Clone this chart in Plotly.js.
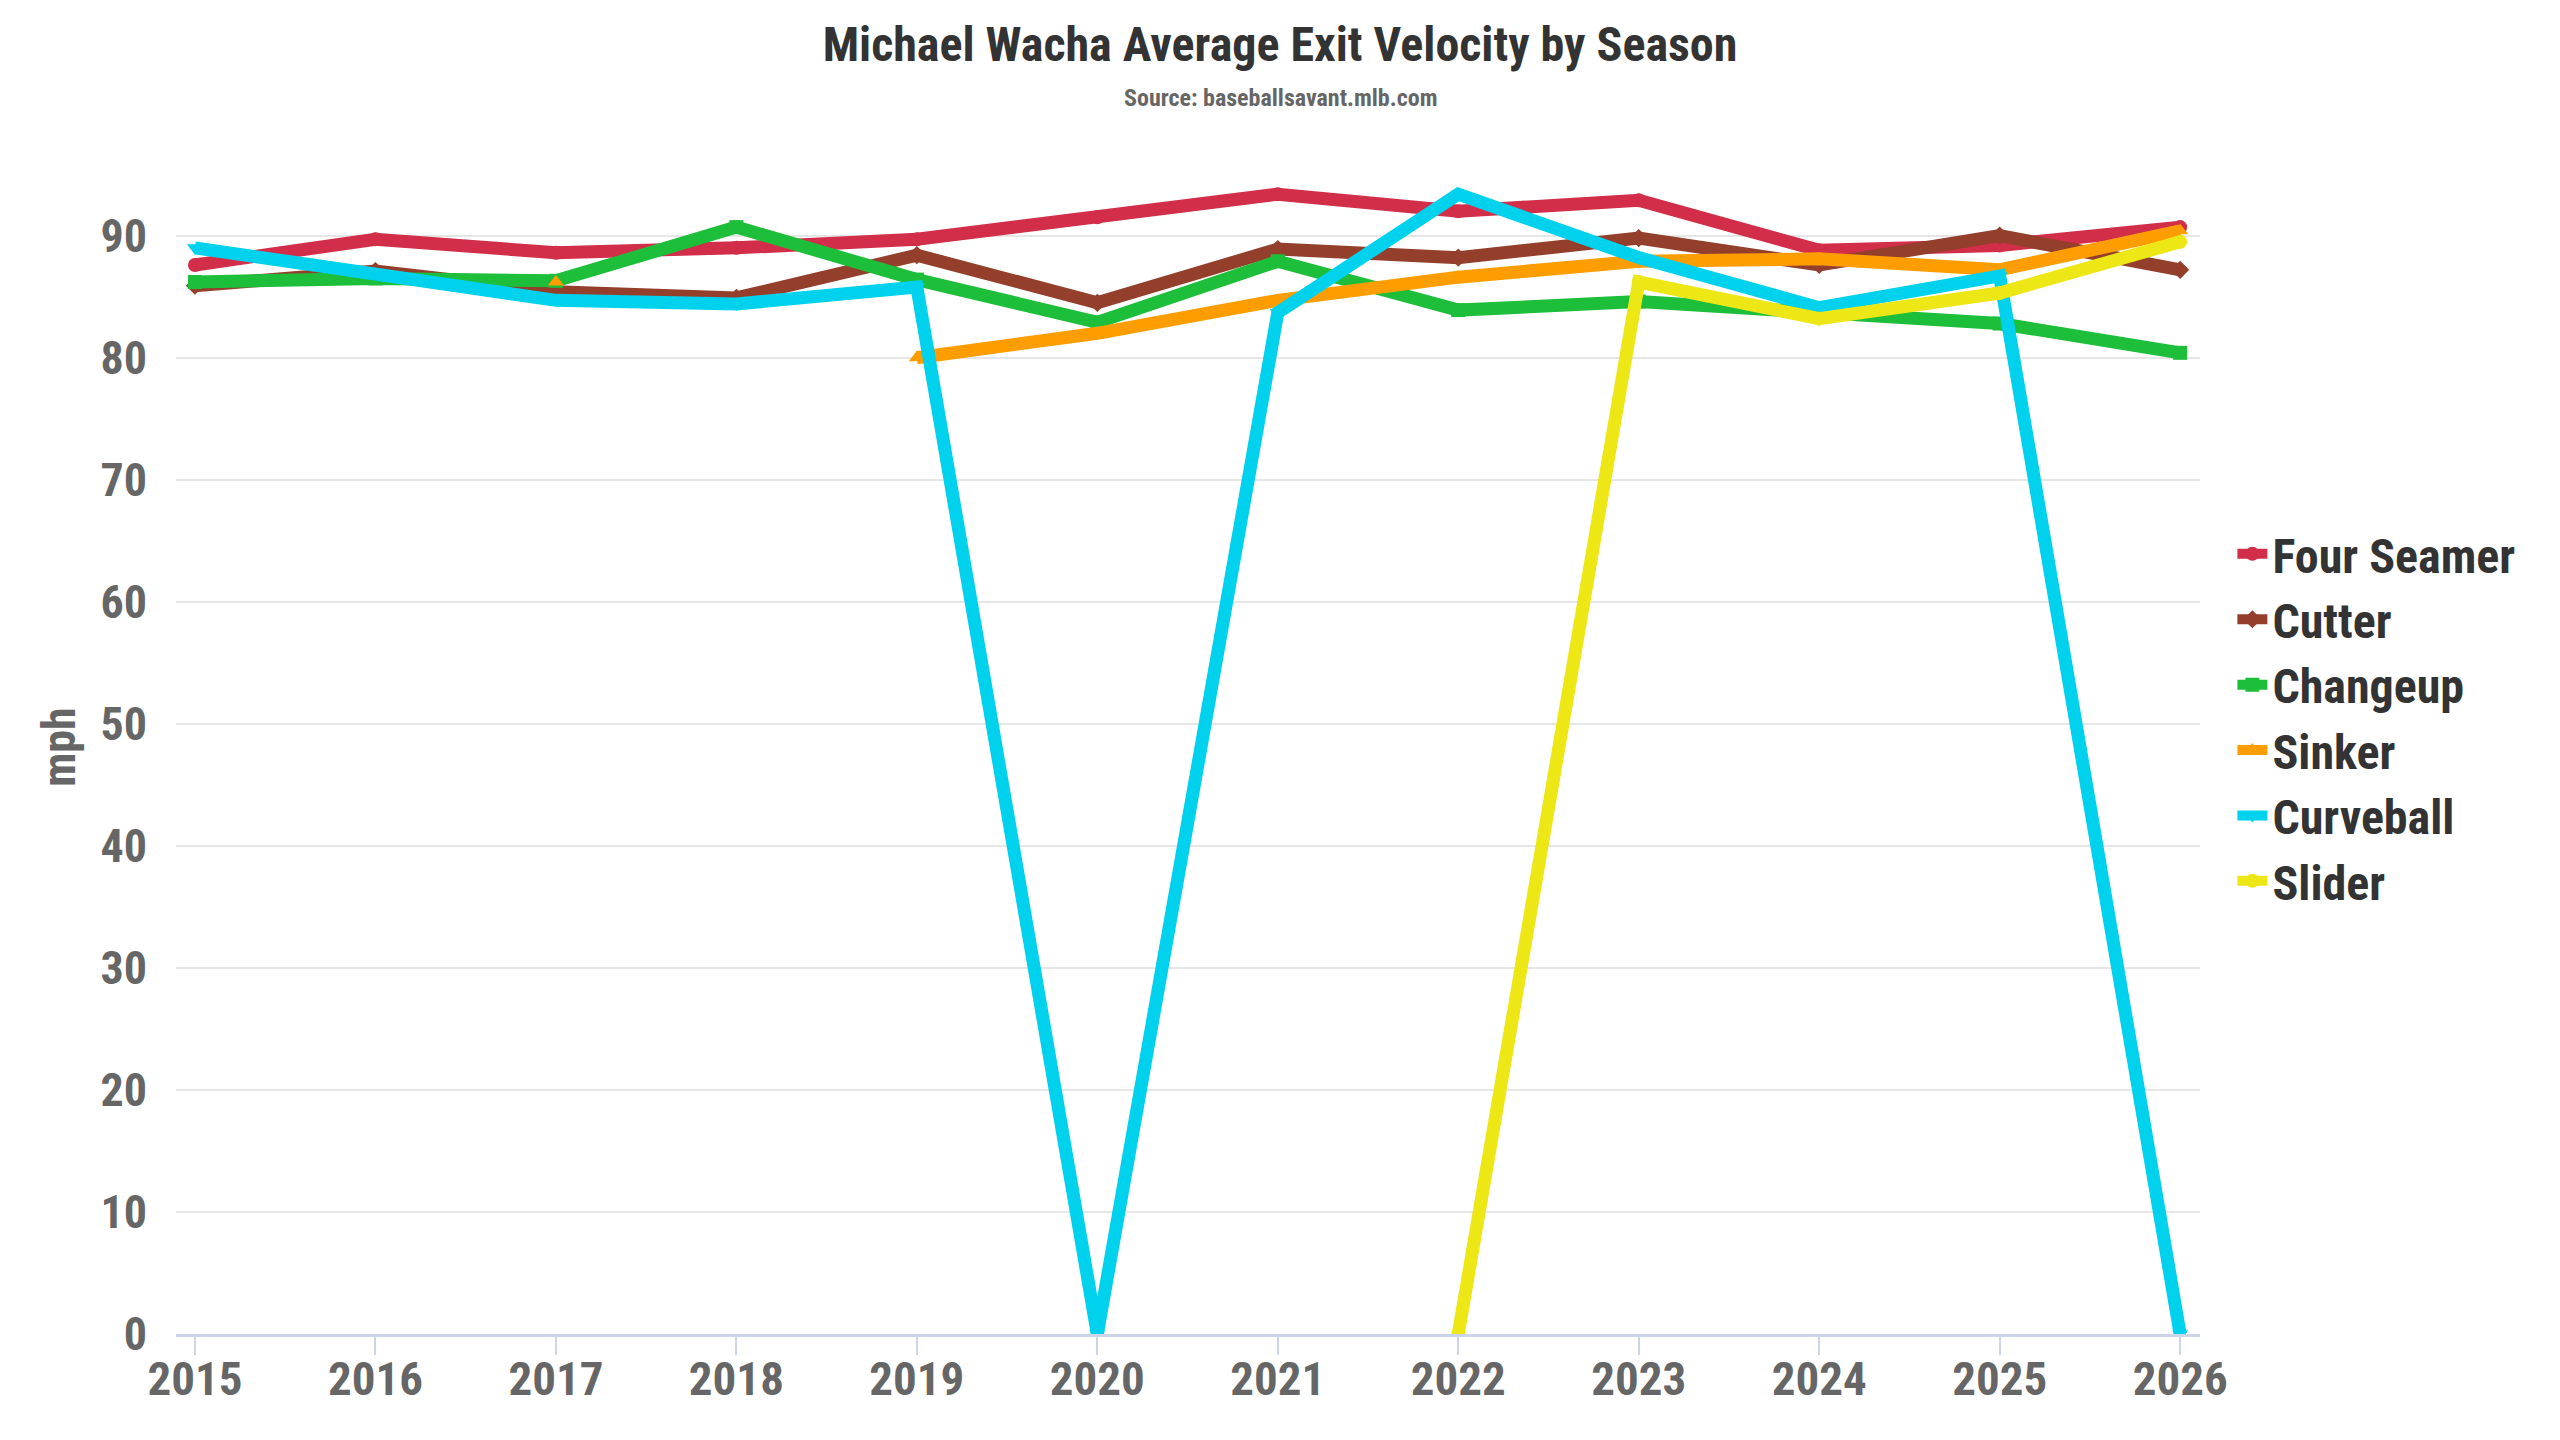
<!DOCTYPE html>
<html>
<head>
<meta charset="utf-8">
<script src="https://cdn.plot.ly/plotly-3.0.1.min.js"></script>
<style>
  html, body { margin: 0; padding: 0; background: #ffffff; }
  #chart { width: 2560px; height: 1440px; }
</style>
</head>
<body>
<div id="chart"></div>
<script>
const seasons = [2015, 2016, 2017, 2018, 2019, 2020, 2021, 2022, 2023, 2024, 2025, 2026];

const fourSeamer = [87.6, 89.7, 88.6, 89.0, 89.7, 91.5, 93.4, 92.0, 92.9, 88.8, 89.2, 90.7];
const cutter     = [85.9, 87.1, 85.4, 84.9, 88.4, 84.5, 88.9, 88.2, 89.8, 87.6, 90.0, 87.2];
const changeup   = [86.2, 86.5, 86.3, 90.7, 86.4, 82.9, 87.9, 83.9, 84.6, 83.6, 82.8, 80.4];
const sinker     = [null, null, 86.2, null, 80.0, 82.0, 84.7, 86.6, 87.9, 88.1, 87.2, 90.4];
const curveball  = [89.0, 86.9, 84.7, 84.4, 85.8, 0.0, 83.7, 93.4, 88.2, 84.1, 86.7, 0.0];
const slider     = [null, null, null, null, null, null, null, 0.0, 86.2, 83.2, 85.3, 89.5];

const seriesNames  = ["Four Seamer", "Cutter", "Changeup", "Sinker", "Curveball", "Slider"];
const seriesValues = [fourSeamer, cutter, changeup, sinker, curveball, slider];
const seriesColors = ["#d22d49", "#933f2c", "#1dbe3a", "#fe9d00", "#00d1ed", "#eee716"];
const seriesSymbols = ["circle", "diamond", "square", "triangle-up", "triangle-down", "circle"];
const yTicks = [0, 10, 20, 30, 40, 50, 60, 70, 80, 90];

const titleText = "Michael Wacha Average Exit Velocity by Season";
const subtitleText = "Source: baseballsavant.mlb.com";
const yTitle = "mph";

const FONT = "'Roboto Condensed', 'Liberation Sans Narrow', 'DejaVu Sans Condensed', Roboto, sans-serif";

const traces = seriesNames.map((name, i) => ({
  type: "scatter",
  mode: "lines+markers",
  name: name,
  x: seasons,
  y: seriesValues[i],
  connectgaps: false,
  line: { color: seriesColors[i], width: 13 },
  marker: { color: seriesColors[i], symbol: seriesSymbols[i], size: 14 },
  hoverinfo: "x+y+name"
}));

const layout = {
  width: 2560,
  height: 1440,
  paper_bgcolor: "#ffffff",
  plot_bgcolor: "#ffffff",
  margin: { l: 176, r: 360, t: 160, b: 106, autoexpand: false },
  font: { family: FONT, color: "#666666", weight: 700 },
  title: {
    text: "<b>" + titleText + "</b>",
    font: { family: FONT, size: 48, color: "#333333", weight: 700 },
    x: 0.5, xref: "container", xanchor: "center",
    y: 1 - 44 / 1440, yref: "container", yanchor: "middle"
  },
  annotations: [{
    text: "<b>" + subtitleText + "</b>",
    xref: "paper", yref: "paper",
    x: (1280 - 176) / 2024, y: (1334 - 98) / 1174,
    xanchor: "center", yanchor: "middle",
    showarrow: false,
    font: { family: FONT, size: 24, color: "#666666" }
  }],
  xaxis: {
    range: [2014.895, 2026.11],
    tickmode: "array",
    tickvals: seasons,
    ticktext: seasons.map(String),
    showgrid: false,
    zeroline: false,
    showline: true,
    linecolor: "#ccd6eb",
    linewidth: 3,
    ticks: "outside",
    ticklen: 18,
    tickwidth: 2,
    tickcolor: "#ccd6eb",
    ticklabelstandoff: -16,
    tickfont: { family: FONT, size: 47, color: "#666666", weight: 700 },
    fixedrange: true
  },
  yaxis: {
    range: [0, 96.2],
    tickmode: "array",
    tickvals: yTicks,
    ticktext: yTicks.map(String),
    showgrid: true,
    gridcolor: "#e6e6e6",
    gridwidth: 2,
    zeroline: false,
    showline: false,
    ticks: "",
    ticklabelstandoff: 28,
    tickfont: { family: FONT, size: 46, color: "#666666", weight: 700 },
    title: {
      text: "<b>" + yTitle + "</b>",
      font: { family: FONT, size: 46, color: "#666666" },
      standoff: 10
    },
    automargin: false,
    fixedrange: true
  },
  legend: {
    x: 1.016, xanchor: "left",
    y: 0.525, yanchor: "middle",
    font: { family: FONT, size: 48, color: "#333333", weight: 700 },
    bgcolor: "rgba(0,0,0,0)",
    itemwidth: 30,
    tracegroupgap: 0
  },
  showlegend: true
};

Plotly.newPlot("chart", traces, layout, { displayModeBar: false, staticPlot: false });
</script>
</body>
</html>
